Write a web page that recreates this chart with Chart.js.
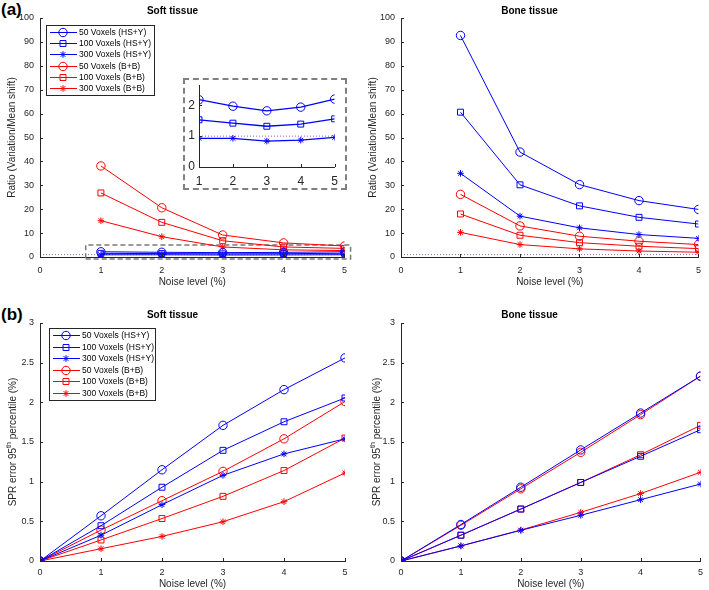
<!DOCTYPE html>
<html>
<head>
<meta charset="utf-8">
<script src="https://cdn.jsdelivr.net/npm/chart.js@4.4.0/dist/chart.umd.min.js"></script>
<style>
  body { margin: 0; background: #fff; width: 709px; height: 590px; position: relative; overflow: hidden;
         font-family: "Liberation Sans", Arial, sans-serif; }
  .panel { position: absolute; }
  .tag { position: absolute; font-weight: bold; font-size: 17px; line-height: 17px; color: #000; }
  #insetBox { position: absolute; left: 183px; top: 78px; width: 164px; height: 112px; box-sizing: border-box;
              border: 2px dashed #808080; background: #fff; }
  #insetBox div { position: relative; width: 160px; height: 108px; }
</style>
</head>
<body>
<div class="tag" style="left:1px;top:1px">(a)</div>
<div class="tag" style="left:1px;top:306px">(b)</div>

<div class="panel" style="left:0;top:0;width:355px;height:290px"><canvas id="softRatio"></canvas></div>
<div class="panel" style="left:355px;top:0;width:354px;height:290px"><canvas id="boneRatio"></canvas></div>
<div class="panel" style="left:0;top:290px;width:355px;height:300px"><canvas id="softSpr"></canvas></div>
<div class="panel" style="left:355px;top:290px;width:354px;height:300px"><canvas id="boneSpr"></canvas></div>
<div id="insetBox"><div><canvas id="inset"></canvas></div></div>

<script>
// noise levels (%)
const noiseRatio = [1, 2, 3, 4, 5];
const noiseSpr = [0, 1, 2, 3, 4, 5];

const seriesNames = ['50 Voxels (HS+Y)', '100 Voxels (HS+Y)', '300 Voxels (HS+Y)',
                     '50 Voxels (B+B)', '100 Voxels (B+B)', '300 Voxels (B+B)'];

// (a) ratio variation / mean shift, soft tissue
const softRatioHS50 = [2.18, 1.97, 1.82, 1.94, 2.2];
const softRatioHS100 = [1.53, 1.42, 1.32, 1.39, 1.56];
const softRatioHS300 = [0.93, 0.93, 0.84, 0.87, 0.96];
const softRatioBB50 = [38.1, 20.6, 9.2, 5.9, 4.6];
const softRatioBB100 = [26.8, 14.5, 6.8, 4.2, 3.6];
const softRatioBB300 = [15.2, 8.5, 4.2, 3.0, 2.7];

// (a) ratio, bone tissue
const boneRatioHS50 = [92.7, 43.9, 30.3, 23.6, 19.9];
const boneRatioHS100 = [60.6, 30.2, 21.4, 16.6, 13.8];
const boneRatioHS300 = [35.0, 17.1, 12.2, 9.4, 7.8];
const boneRatioBB50 = [26.2, 13.0, 8.7, 6.6, 5.2];
const boneRatioBB100 = [18.0, 9.1, 6.0, 4.5, 3.5];
const boneRatioBB300 = [10.3, 5.2, 3.4, 2.5, 2.0];

// (b) SPR error 95th percentile (%), soft tissue
const softSprHS50 = [0, 0.57, 1.15, 1.71, 2.16, 2.56];
const softSprHS100 = [0, 0.445, 0.93, 1.395, 1.755, 2.055];
const softSprHS300 = [0, 0.325, 0.71, 1.08, 1.35, 1.54];
const softSprBB50 = [0, 0.39, 0.76, 1.13, 1.54, 2.01];
const softSprBB100 = [0, 0.265, 0.535, 0.815, 1.14, 1.55];
const softSprBB300 = [0, 0.155, 0.31, 0.495, 0.748, 1.11];

// (b) SPR error, bone tissue
const boneSprHS50 = [0, 0.46, 0.93, 1.40, 1.865, 2.33];
const boneSprHS100 = [0, 0.325, 0.655, 0.99, 1.32, 1.655];
const boneSprHS300 = [0, 0.19, 0.387, 0.576, 0.773, 0.97];
const boneSprBB50 = [0, 0.45, 0.91, 1.37, 1.845, 2.33];
const boneSprBB100 = [0, 0.325, 0.655, 0.99, 1.34, 1.71];
const boneSprBB300 = [0, 0.19, 0.39, 0.613, 0.85, 1.118];

// reference line at ratio = 1 and the zoom window drawn on the soft tissue plot
const unityX = [0, 5];
const unityY = [1, 1];
const zoomBoxX = [0.75, 5.1, 5.1, 0.75, 0.75];
const zoomBoxY = [-0.8, -0.8, 5.0, 5.0, -0.8];

const seriesColors = ['#0000ff', '#0000ff', '#0000ff', '#ff0000', '#ff0000', '#ff0000'];
const seriesMarkers = ['circle', 'rect', 'star', 'circle', 'rect', 'star'];
const markerRadius = { circle: 4.2, rect: 4.2, star: 3.3 };
const axisColor = '#262626';
const fontFamily = '"Liberation Sans", Arial, sans-serif';

Chart.defaults.font.family = fontFamily;
Chart.defaults.animation = false;

function lineSets(xs, list, width) {
  return list.map((ys, i) => ({
    label: seriesNames[i],
    data: ys.map((y, j) => ({ x: xs[j], y: y })),
    borderColor: seriesColors[i],
    backgroundColor: 'rgba(0,0,0,0)',
    pointBackgroundColor: 'rgba(0,0,0,0)',
    pointBorderColor: seriesColors[i],
    pointStyle: seriesMarkers[i],
    pointRadius: markerRadius[seriesMarkers[i]],
    pointBorderWidth: 1,
    borderWidth: width || 1,
    tension: 0
  }));
}

function refSet(xs, ys, color, dash, width) {
  return {
    isRef: true,
    label: '',
    data: xs.map((x, j) => ({ x: x, y: ys[j] })),
    borderColor: color,
    borderDash: dash,
    borderWidth: width,
    pointRadius: 0,
    clip: false,
    tension: 0
  };
}

// MATLAB style ticks pointing into the axes
const inTicks = {
  id: 'inTicks',
  afterDatasetsDraw(chart, args, opts) {
    const { ctx, chartArea: a, scales: { x, y } } = chart;
    const len = opts.len || 3;
    ctx.save();
    ctx.strokeStyle = axisColor;
    ctx.lineWidth = 1;
    ctx.beginPath();
    x.ticks.forEach(t => {
      const px = Math.round(x.getPixelForValue(t.value)) + 0.5;
      ctx.moveTo(px, a.bottom); ctx.lineTo(px, a.bottom - len);
    });
    y.ticks.forEach(t => {
      const py = Math.round(y.getPixelForValue(t.value)) + 0.5;
      ctx.moveTo(a.left, py); ctx.lineTo(a.left + len, py);
    });
    ctx.stroke();
    ctx.restore();
  }
};

// boxed legend with line + marker samples, drawn inside the axes
const boxLegend = {
  id: 'boxLegend',
  afterDraw(chart, args, o) {
    if (!o.show) return;
    const ctx = chart.ctx;
    const sets = chart.data.datasets.filter(d => !d.isRef);
    const rowH = (o.h - 2 * o.pad) / sets.length;
    ctx.save();
    ctx.fillStyle = '#fff';
    ctx.fillRect(o.x, o.y, o.w, o.h);
    ctx.strokeStyle = axisColor;
    ctx.lineWidth = 1;
    ctx.strokeRect(o.x + 0.5, o.y + 0.5, o.w, o.h);
    ctx.font = '8.5px ' + fontFamily;
    ctx.textBaseline = 'middle';
    sets.forEach((d, i) => {
      const cy = Math.round(o.y + o.pad + rowH * (i + 0.5)) + 0.5;
      ctx.strokeStyle = d.borderColor;
      ctx.lineWidth = 1;
      ctx.beginPath();
      ctx.moveTo(o.x + 4, cy); ctx.lineTo(o.x + 31, cy);
      ctx.stroke();
      ctx.fillStyle = 'rgba(0,0,0,0)';
      Chart.helpers.drawPoint(ctx, { pointStyle: d.pointStyle, radius: d.pointRadius, rotation: 0, borderWidth: 1 }, o.x + 17, cy);
      ctx.fillStyle = '#000';
      ctx.fillText(d.label, o.x + 33, cy);
    });
    ctx.restore();
  }
};

// y title with a superscript part
const supTitle = {
  id: 'supTitle',
  afterDraw(chart, args, o) {
    if (!o.show) return;
    const ctx = chart.ctx, a = chart.chartArea;
    const base = '10px ' + fontFamily, small = '7px ' + fontFamily;
    ctx.save();
    ctx.fillStyle = axisColor;
    ctx.translate(o.x, (a.top + a.bottom) / 2);
    ctx.rotate(-Math.PI / 2);
    ctx.textBaseline = 'middle';
    ctx.font = base;
    const w1 = ctx.measureText(o.pre).width, w3 = ctx.measureText(o.post).width;
    ctx.font = small;
    const w2 = ctx.measureText(o.sup).width;
    const x0 = -(w1 + w2 + w3) / 2;
    ctx.font = base; ctx.fillText(o.pre, x0, 0);
    ctx.font = small; ctx.fillText(o.sup, x0 + w1, -4);
    ctx.font = base; ctx.fillText(o.post, x0 + w1 + w2, 0);
    ctx.restore();
  }
};

function axes(o) {
  return {
    x: {
      type: 'linear', min: o.xMin, max: o.xMax,
      afterFit: s => { s.height = o.xH; },
      ticks: { stepSize: 1, color: axisColor, font: { size: o.tick || 9 }, padding: o.xPad, maxRotation: 0 },
      grid: { display: false, drawTicks: false },
      border: { color: axisColor, width: 1 },
      title: { display: !!o.xTitle, text: o.xTitle, color: axisColor, font: { size: 10 }, padding: { top: 0, bottom: o.xTitlePad || 0 } }
    },
    y: {
      type: 'linear', min: o.yMin, max: o.yMax,
      afterFit: s => { s.width = o.yW; if (o.noPad) { s.paddingTop = 0; s.paddingBottom = 0; } },
      ticks: { stepSize: o.yStep, color: axisColor, font: { size: o.tick || 9 }, padding: o.yPad, includeBounds: false,
               callback: v => String(v) },
      grid: { display: false, drawTicks: false },
      border: { color: axisColor, width: 1 },
      title: { display: !!o.yTitle, text: o.yTitle, color: axisColor, font: { size: 10 }, padding: { top: o.yTitlePad || 0 } }
    }
  };
}

function titleOpts(text, top, bottom) {
  return { display: true, text: text, color: '#000', font: { size: 10, weight: 'bold' }, padding: { top: top, bottom: bottom } };
}

const commonPlugins = [inTicks, boxLegend, supTitle];

// (a) soft tissue
new Chart(document.getElementById('softRatio'), {
  type: 'line',
  data: {
    datasets: lineSets(noiseRatio, [softRatioHS50, softRatioHS100, softRatioHS300, softRatioBB50, softRatioBB100, softRatioBB300])
      .concat([refSet(unityX, unityY, '#8a6aa8', [1, 2], 1), refSet(zoomBoxX, zoomBoxY, '#7a7a7a', [5, 3], 1.5)])
  },
  options: {
    responsive: true, maintainAspectRatio: false,
    layout: { padding: { left: 0, right: 10, top: 0, bottom: 0 } },
    scales: axes({ xMin: 0, xMax: 5, yMin: 0, yMax: 100, yStep: 10, xH: 33, yW: 40, xPad: 8, yPad: 6,
                   xTitle: 'Noise level (%)', xTitlePad: 2, yTitle: 'Ratio (Variation/Mean shift)', yTitlePad: 6 }),
    plugins: {
      legend: { display: false }, tooltip: { enabled: false },
      title: titleOpts('Soft tissue', 5, 1),
      boxLegend: { show: true, x: 46, y: 25, w: 108, h: 70, pad: 1.5 }
    }
  },
  plugins: commonPlugins
});

// (a) bone tissue
new Chart(document.getElementById('boneRatio'), {
  type: 'line',
  data: {
    datasets: lineSets(noiseRatio, [boneRatioHS50, boneRatioHS100, boneRatioHS300, boneRatioBB50, boneRatioBB100, boneRatioBB300])
      .concat([refSet(unityX, unityY, '#8a6aa8', [1, 2], 1)])
  },
  options: {
    responsive: true, maintainAspectRatio: false,
    layout: { padding: { left: 0, right: 5, top: 0, bottom: 0 } },
    scales: axes({ xMin: 0, xMax: 5, yMin: 0, yMax: 100, yStep: 10, xH: 33, yW: 46, xPad: 8, yPad: 6,
                   xTitle: 'Noise level (%)', xTitlePad: 2, yTitle: 'Ratio (Variation/Mean shift)', yTitlePad: 12 }),
    plugins: {
      legend: { display: false }, tooltip: { enabled: false },
      title: titleOpts('Bone tissue', 5, 1)
    }
  },
  plugins: commonPlugins
});

// (b) soft tissue
new Chart(document.getElementById('softSpr'), {
  type: 'line',
  data: { datasets: lineSets(noiseSpr, [softSprHS50, softSprHS100, softSprHS300, softSprBB50, softSprBB100, softSprBB300]) },
  options: {
    responsive: true, maintainAspectRatio: false,
    layout: { padding: { left: 0, right: 10, top: 0, bottom: 0 } },
    scales: axes({ xMin: 0, xMax: 5, yMin: 0, yMax: 3, yStep: 0.5, xH: 29, yW: 40, xPad: 6, yPad: 6,
                   xTitle: 'Noise level (%)', xTitlePad: 0 }),
    plugins: {
      legend: { display: false }, tooltip: { enabled: false },
      title: titleOpts('Soft tissue', 19, 2),
      boxLegend: { show: true, x: 49, y: 38, w: 106, h: 72, pad: 1.5 },
      supTitle: { show: true, x: 13, pre: 'SPR error 95', sup: 'th', post: ' percentile (%)' }
    }
  },
  plugins: commonPlugins
});

// (b) bone tissue
new Chart(document.getElementById('boneSpr'), {
  type: 'line',
  data: { datasets: lineSets(noiseSpr, [boneSprHS50, boneSprHS100, boneSprHS300, boneSprBB50, boneSprBB100, boneSprBB300]) },
  options: {
    responsive: true, maintainAspectRatio: false,
    layout: { padding: { left: 0, right: 5, top: 0, bottom: 0 } },
    scales: axes({ xMin: 0, xMax: 5, yMin: 0, yMax: 3, yStep: 0.5, xH: 29, yW: 46, xPad: 6, yPad: 6,
                   xTitle: 'Noise level (%)', xTitlePad: 0 }),
    plugins: {
      legend: { display: false }, tooltip: { enabled: false },
      title: titleOpts('Bone tissue', 19, 2),
      supTitle: { show: true, x: 22, pre: 'SPR error 95', sup: 'th', post: ' percentile (%)' }
    }
  },
  plugins: commonPlugins
});

// inset: zoom on the HS+Y soft tissue ratios
new Chart(document.getElementById('inset'), {
  type: 'line',
  data: {
    datasets: lineSets(noiseRatio, [softRatioHS50, softRatioHS100, softRatioHS300], 1.3)
      .concat([refSet([1, 5], unityY, '#9a5fc0', [1, 2], 1)])
  },
  options: {
    responsive: true, maintainAspectRatio: false,
    layout: { padding: { left: 0, right: 9, top: 2, bottom: 0 } },
    scales: axes({ xMin: 1, xMax: 5, yMin: 0, yMax: 2.65, yStep: 1, xH: 21, yW: 14, xPad: 7, yPad: 4,
                   tick: 12, noPad: true }),
    plugins: { legend: { display: false }, tooltip: { enabled: false } }
  },
  plugins: [inTicks]
});
</script>
</body>
</html>
